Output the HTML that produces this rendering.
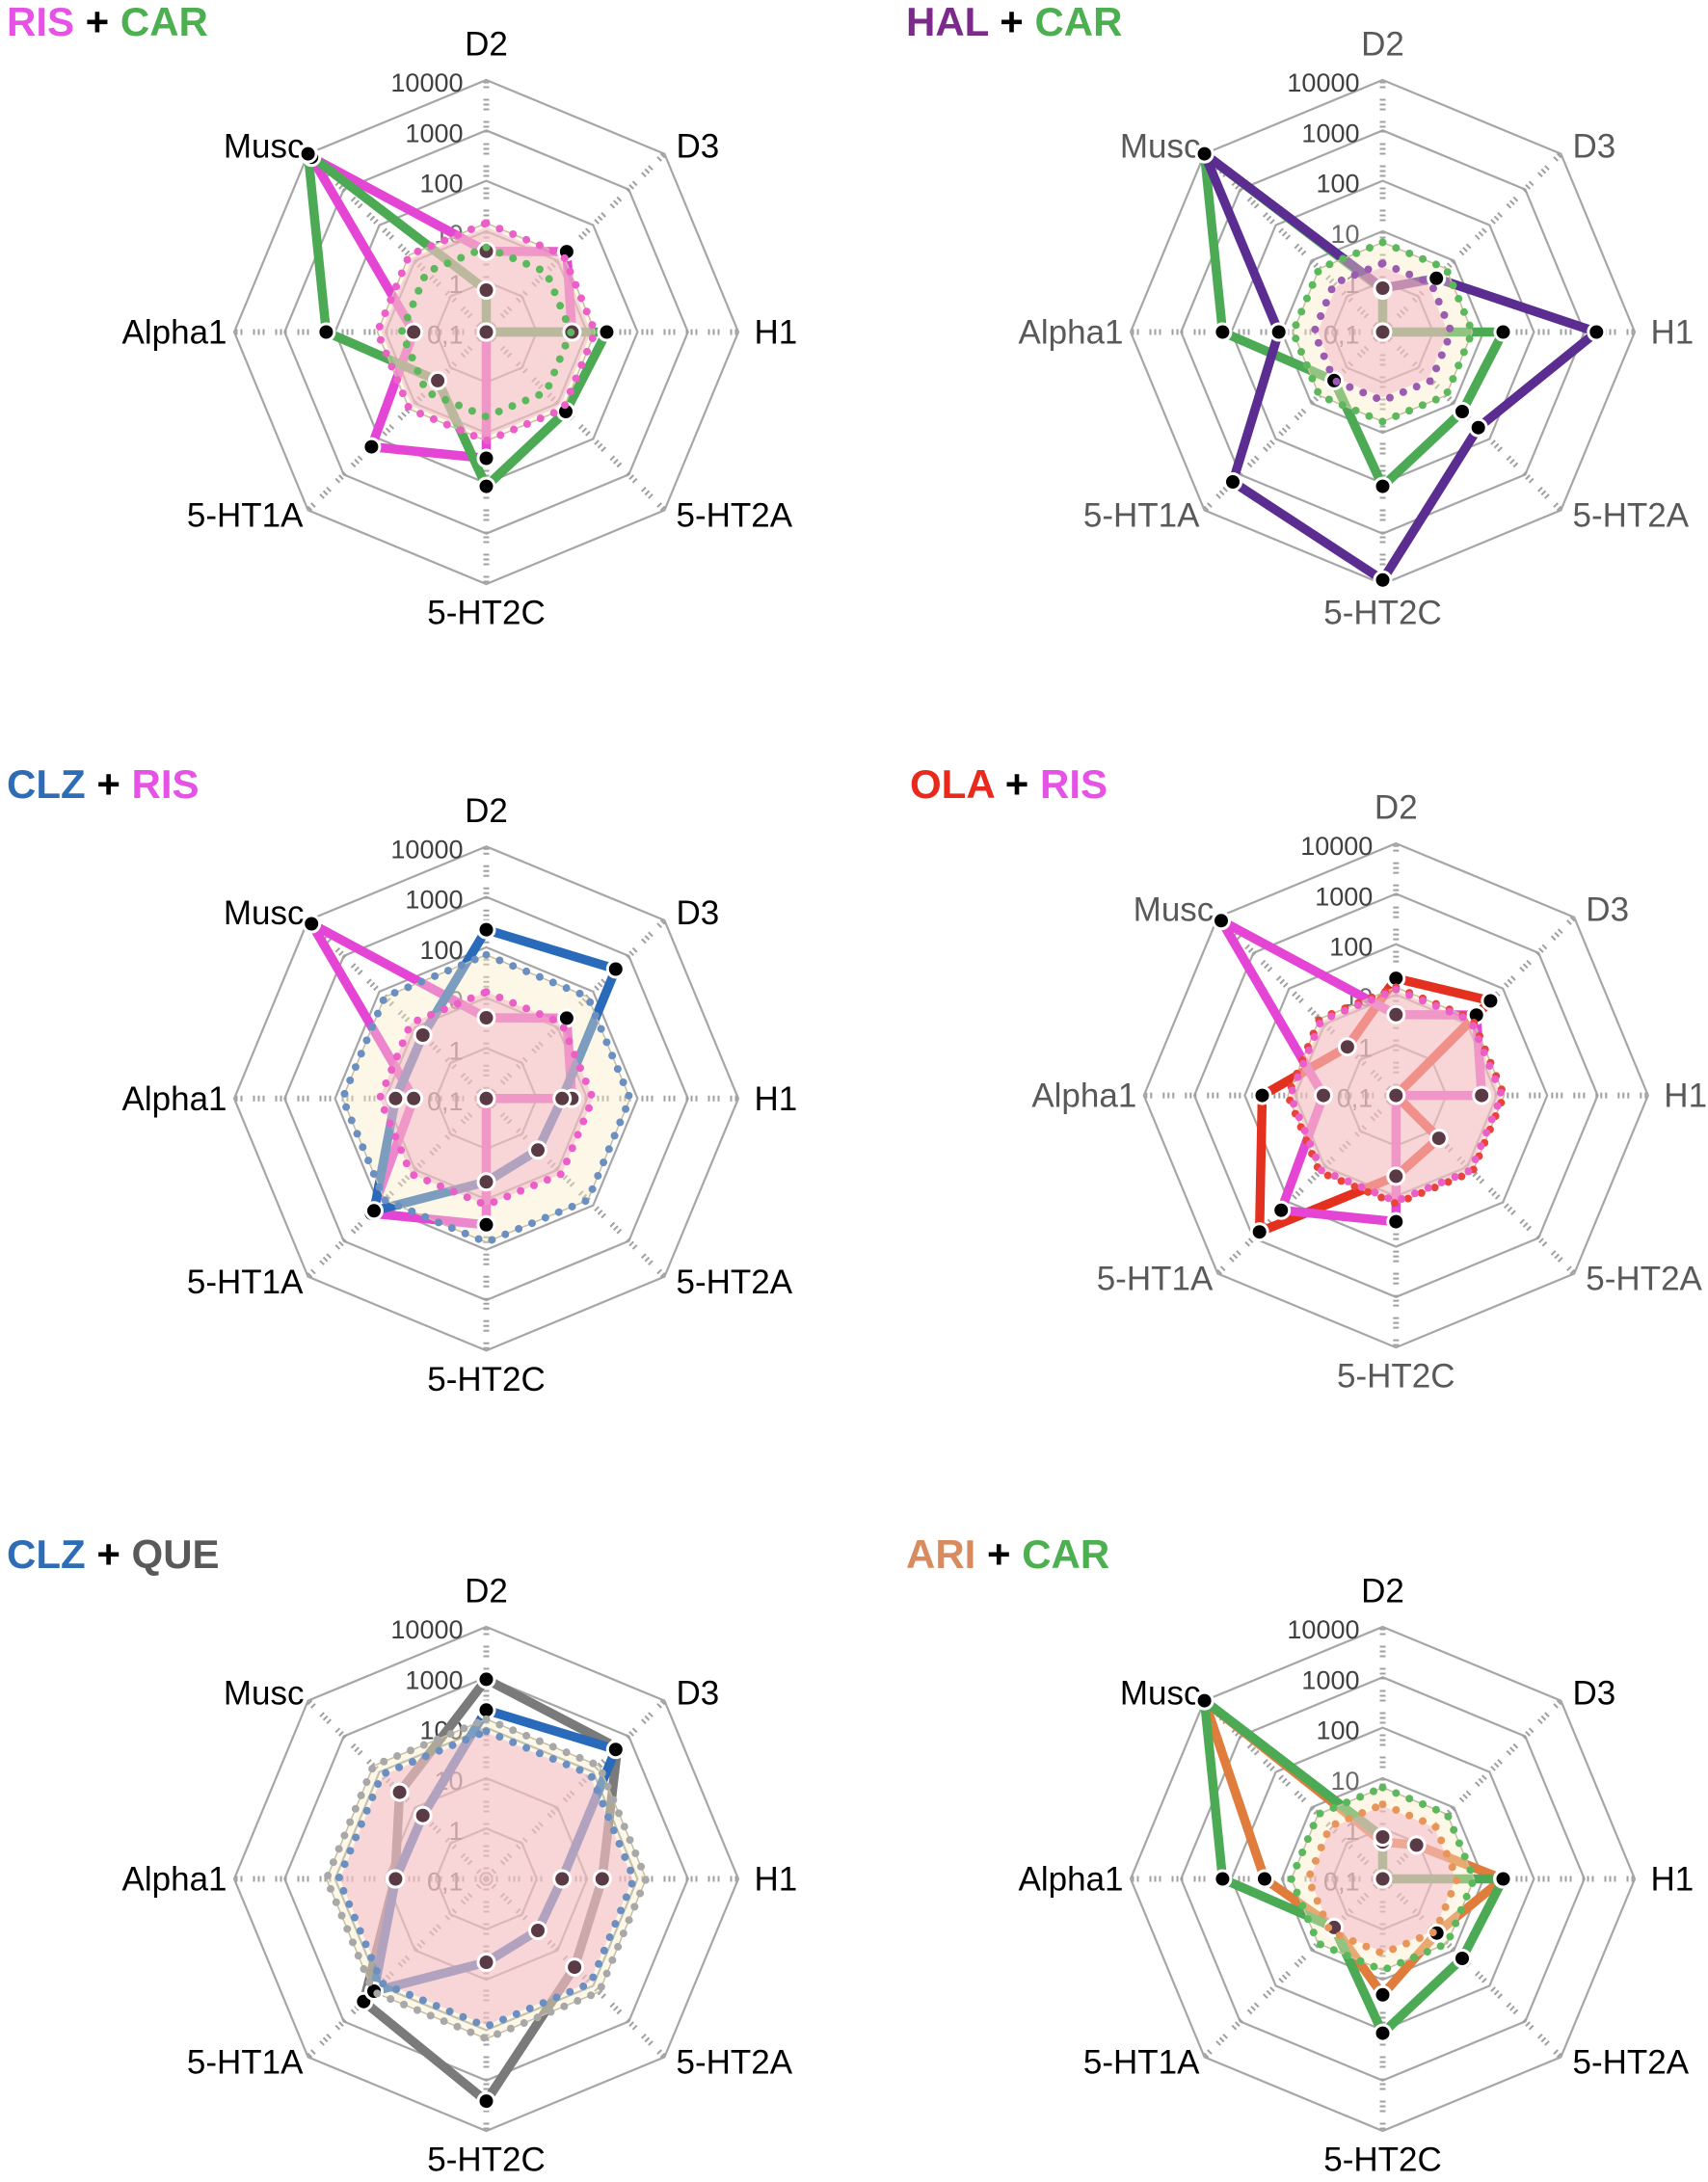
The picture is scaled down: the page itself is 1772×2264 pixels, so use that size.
<!DOCTYPE html>
<html><head><meta charset="utf-8">
<style>
html,body{margin:0;padding:0;background:#fff;}
body{width:1772px;height:2264px;position:relative;overflow:hidden;font-family:"Liberation Sans",sans-serif;}
svg{position:absolute;left:0;top:0;}
</style></head>
<body>
<svg id="chart" width="1772" height="2264" viewBox="0 0 1772 2264" xmlns="http://www.w3.org/2000/svg"></svg>
<script>
// ---- data ----
const receptors = ["D2","D3","H1","5-HT2A","5-HT2C","5-HT1A","Alpha1","Musc"];
const tickLabels = ["10000","1000","100","10","1","0,1"];
const tickValues = [10000,1000,100,10,1,0.1];
const valCAR = [0.68, 0.1, 24.5, 17, 115, 2.3, 150, 10000];
const valRIS = [4, 18, 5, 0.1, 32, 166, 2.75, 8000];
const valHAL = [0.74, 3.2, 1740, 48, 8300, 1600, 11.5, 10000];
const valCLZ = [224, 427, 3.2, 2.8, 4.5, 141, 6.3, 6];
const valOLA = [21, 45, 0.1, 1.6, 4, 676, 45, 2.3];
const valQUE = [912, 479, 20, 30, 2570, 275, 6.5, 27];
const valARI = [0.54, 0.89, 24, 3.3, 20, 2.3, 22, 10000];
// therapeutic band levels per chart [series A, series B]
const bandRisCar = [14.5, 4.8];
const bandHalCar = [2.3, 6];
const bandClzRis = [71, 13];
const bandOlaRis = [14, 12.6];
const bandClzQue = [85, 148];
const bandAriCar = [3, 6.5];
// pink (inner) and cream (outer) fill levels per chart
const pinkLevels = [12, 1.95, 13, 12, 80, 2.8];
const creamLevels = [14.5, 6, 71, 14, 148, 6.5];

const colors = {RIS:"#e445d4",CAR:"#4caa55",HAL:"#5c2d91",CLZ:"#2a6abb",OLA:"#e4301f",QUE:"#7a7a7a",ARI:"#e07c3c"};
const titleColors = {RIS:"#e651e6",CAR:"#4caf50",HAL:"#7b2a8c",CLZ:"#2e6db5",OLA:"#e8291c",QUE:"#595959",ARI:"#d98b60"};
const dotColors = {RIS:"#ec5fc8",CAR:"#5cb85c",HAL:"#9a5bb0",CLZ:"#6b8fc0",OLA:"#e8443a",QUE:"#a8a8a8",ARI:"#e8955a"};

const charts = [
 {id:"ris-car",cx:504.5,cy:344.5,tx:7,ty:37,a:"RIS",b:"CAR",va:valRIS,vb:valCAR,band:bandRisCar,lab:"#000",order:["a","b"]},
 {id:"hal-car",cx:1434.5,cy:344.5,tx:940,ty:37,a:"HAL",b:"CAR",va:valHAL,vb:valCAR,band:bandHalCar,lab:"#595959",order:["b","a"]},
 {id:"clz-ris",cx:504.5,cy:1139.8,tx:7,ty:828,a:"CLZ",b:"RIS",va:valCLZ,vb:valRIS,band:bandClzRis,lab:"#000",order:["b","a"]},
 {id:"ola-ris",cx:1448.3,cy:1136.6,tx:944,ty:828,a:"OLA",b:"RIS",va:valOLA,vb:valRIS,band:bandOlaRis,lab:"#595959",order:["a","b"]},
 {id:"clz-que",cx:504.5,cy:1949.5,tx:7,ty:1627,a:"CLZ",b:"QUE",va:valCLZ,vb:valQUE,band:bandClzQue,lab:"#000",order:["b","a"]},
 {id:"ari-car",cx:1434.5,cy:1949.5,tx:940,ty:1627,a:"ARI",b:"CAR",va:valARI,vb:valCAR,band:bandAriCar,lab:"#000",order:["a","b"]}
];

const DEC = 52.3;
const NS = "http://www.w3.org/2000/svg";
const svg = document.getElementById("chart");
function rScale(v){ return Math.max(0,(Math.log10(Math.max(v,0.1))+1)*DEC); }
function ang(i){ return (-90 + 45*i)*Math.PI/180; }
function pt(c,i,r){ return [c.cx + r*Math.cos(ang(i)), c.cy + r*Math.sin(ang(i))]; }
function mk(tag,attrs,parent){ const e=document.createElementNS(NS,tag); for(const k in attrs) e.setAttribute(k,attrs[k]); (parent||svg).appendChild(e); return e; }
function polyPts(c,rs){ return rs.map((r,i)=>pt(c,i,r).map(n=>n.toFixed(1)).join(",")).join(" "); }

const labelPos = [
 {dx:0,dy:-287,anchor:"middle"},{dx:197,dy:-181,anchor:"start"},{dx:278,dy:12,anchor:"start"},
 {dx:197,dy:202,anchor:"start"},{dx:0,dy:303,anchor:"middle"},{dx:-190,dy:202,anchor:"end"},
 {dx:-269,dy:12,anchor:"end"},{dx:-189,dy:-181,anchor:"end"}];

charts.forEach((c,ci)=>{
  const g = mk("g",{});
  
  
  const t = mk("text",{x:c.tx,y:c.ty,"font-size":42,"font-weight":"bold"},g);
  
  
  const s1=mk("tspan",{fill:titleColors[c.a]},t); s1.textContent=c.a;
  const s2=mk("tspan",{fill:"#000"},t); s2.textContent=" + ";
  const s3=mk("tspan",{fill:titleColors[c.b]},t); s3.textContent=c.b;
  for(let k=1;k<=5;k++){
    const ring = mk("polygon",{points:polyPts(c,receptors.map(()=>k*DEC)),fill:"none",stroke:"#a6a6a6","stroke-width":2.2},g);
    
    
  }
  receptors.forEach((r,i)=>{
    const p = pt(c,i,5*DEC);
    const sp = mk("line",{x1:c.cx,y1:c.cy,x2:p[0].toFixed(1),y2:p[1].toFixed(1),stroke:"#a0a0a0","stroke-width":6,"stroke-dasharray":"2 3 2 3 2 11"},g);
    
    
  });
  tickValues.forEach((v,k)=>{
    const tl = mk("text",{x:c.cx-24,y:(c.cy - rScale(v) + 12).toFixed(1),"text-anchor":"end","font-size":27,fill:(v<50?"#6a6a6a":"#404040")},g);
    
    
    tl.textContent = tickLabels[k];
  });
  receptors.forEach((r,i)=>{
    const lp = labelPos[i];
    const al = mk("text",{x:c.cx+lp.dx,y:c.cy+lp.dy,"text-anchor":lp.anchor,"font-size":35,fill:c.lab},g);
    
    
    al.textContent = r;
  });
  c.order.forEach(key=>{
    const name = c[key], vals = c["v"+key];
    const rs = vals.map(rScale);
    const line = mk("polygon",{points:polyPts(c,rs),fill:"none",stroke:colors[name],"stroke-width":9.5,"stroke-linejoin":"round"},g);
    
    
  });
  const cream = mk("polygon",{points:polyPts(c,receptors.map(()=>rScale(creamLevels[ci]))),fill:"#fbecc4","fill-opacity":0.4,stroke:"#c8bfa0","stroke-width":1.5},g);
  
  
  const pinkR = rScale(pinkLevels[ci]);
  const pink = mk("polygon",{points:polyPts(c,receptors.map(()=>pinkR)),fill:"#f2aac2","fill-opacity":0.45,stroke:"none"},g);
  
  
  c.order.forEach(key=>{
    const name = c[key], vals = c["v"+key];
    vals.map(rScale).forEach((r,i)=>{
      const p = pt(c,i,r);
      const m = mk("circle",{cx:p[0].toFixed(1),cy:p[1].toFixed(1),r:8.5,fill:(r<pinkR-4?"#5a3a44":"#000"),stroke:"#fff","stroke-width":3},g);
      
      
    });
  });
  [["a",0],["b",1]].forEach(([key,bi])=>{
    const name=c[key];
    const d = mk("polygon",{points:polyPts(c,receptors.map(()=>rScale(c.band[bi]))),fill:"none",stroke:dotColors[name],"stroke-width":8,"stroke-linecap":"round","stroke-dasharray":"0 15"},g);
    
    
  });
});
</script>
</body></html>
